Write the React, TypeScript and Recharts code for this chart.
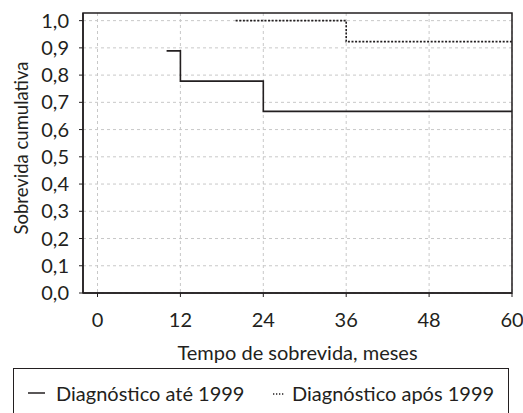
import React from "react";
import { LineChart, Line, XAxis, YAxis, CartesianGrid, Legend, Label, ReferenceArea } from "recharts";

// Kaplan-Meier estimates
const beforeMonths = [10, 12, 24, 60];
const beforeSurvival = [0.889, 0.778, 0.667, 0.667];
const afterMonths = [20, 36, 60];
const afterSurvival = [1.0, 0.923, 0.923];

const xTicks = [0, 12, 24, 36, 48, 60];
const yTicks = [0, 0.1, 0.2, 0.3, 0.4, 0.5, 0.6, 0.7, 0.8, 0.9, 1.0];
const xDomain: [number, number] = [-2.1, 60];
const yDomain: [number, number] = [0, 1.028];

const beforeData = beforeMonths.map((t, i) => ({ t, s: beforeSurvival[i] }));
const afterData = afterMonths.map((t, i) => ({ t, s: afterSurvival[i] }));

const FONT = "Lato, sans-serif";
const FS = 20;
const INK = "#231f20";

function LegendBox() {
  return (
    <div
      style={{
        position: "relative",
        border: `1.5px solid ${INK}`,
        borderBottom: "none",
        height: 50,
        boxSizing: "border-box",
        fontFamily: FONT,
        fontSize: FS,
        color: INK,
        lineHeight: "24px",
      }}
    >
      <svg width={20} height={24} style={{ position: "absolute", left: 13, top: 12 }}>
        <line x1={1} x2={18} y1={12} y2={12} stroke={INK} strokeWidth={1.5} />
      </svg>
      <span style={{ position: "absolute", left: 42, top: 12, whiteSpace: "nowrap" }}>Diagnóstico até 1999</span>
      <svg width={16} height={24} style={{ position: "absolute", left: 258, top: 12 }}>
        <line x1={1} x2={13} y1={13} y2={13} stroke={INK} strokeWidth={1.3} strokeDasharray="1.3 1.7" />
      </svg>
      <span style={{ position: "absolute", left: 278, top: 12, whiteSpace: "nowrap" }}>Diagnóstico após 1999</span>
    </div>
  );
}

export default function App() {
  return (
    <div style={{ position: "absolute", left: 0, top: 0, width: 523, height: 413, background: "#fff", overflow: "hidden" }}>
      <LineChart
        width={523}
        height={413}
        margin={{ top: 13, right: 11, bottom: 0, left: 0 }}
        style={{ fontFamily: FONT }}
      >
        <CartesianGrid
          xAxisId="b"
          yAxisId="l"
          stroke="#c8c8c8"
          strokeDasharray="3 3"
          horizontalValues={yTicks}
          verticalValues={xTicks}
        />
        <XAxis
          xAxisId="b"
          type="number"
          dataKey="t"
          domain={xDomain}
          ticks={xTicks}
          interval={0}
          allowDataOverflow
          height={80}
          tickSize={4}
          tickMargin={16}
          stroke={INK}
          tick={{ fill: INK, fontSize: FS }}
          axisLine={{ stroke: INK, strokeWidth: 1.5 }}
        >
          <Label
            content={({ viewBox }: any) => (
              <text x={viewBox.x + viewBox.width / 2} y={viewBox.y + 67} textAnchor="middle" fill={INK} fontSize={FS}>
                Tempo de sobrevida, meses
              </text>
            )}
          />
        </XAxis>
        <YAxis
          yAxisId="l"
          type="number"
          domain={yDomain}
          ticks={yTicks}
          interval={0}
          allowDataOverflow
          width={83}
          tickSize={4}
          tickMargin={10}
          stroke={INK}
          tickFormatter={(v: number) => v.toFixed(1).replace(".", ",")}
          tick={{ fill: INK, fontSize: FS }}
          axisLine={{ stroke: INK, strokeWidth: 1.5 }}
        >
          <Label
            content={({ viewBox }: any) => {
              const cy = viewBox.y + viewBox.height / 2 - 5;
              return (
                <text x={28} y={cy} transform={`rotate(-90 28 ${cy})`} textAnchor="middle" fill={INK} fontSize={18.5}>
                  Sobrevida cumulativa
                </text>
              );
            }}
          />
        </YAxis>
        <ReferenceArea
          xAxisId="b"
          yAxisId="l"
          x1={xDomain[0]}
          x2={xDomain[1]}
          y1={yDomain[0]}
          y2={yDomain[1]}
          fill="none"
          fillOpacity={0}
          stroke={INK}
          strokeWidth={1.5}
        />
        <Legend
          verticalAlign="bottom"
          height={40}
          wrapperStyle={{ left: 13, width: 496, top: 368 }}
          content={() => <LegendBox />}
        />
        <Line
          xAxisId="b"
          yAxisId="l"
          data={beforeData}
          dataKey="s"
          type="stepAfter"
          stroke={INK}
          strokeWidth={1.6}
          dot={false}
          isAnimationActive={false}
        />
        <Line
          xAxisId="b"
          yAxisId="l"
          data={afterData}
          dataKey="s"
          type="stepAfter"
          stroke={INK}
          strokeWidth={1.6}
          strokeDasharray="2 1.6"
          dot={false}
          isAnimationActive={false}
        />
      </LineChart>
    </div>
  );
}
